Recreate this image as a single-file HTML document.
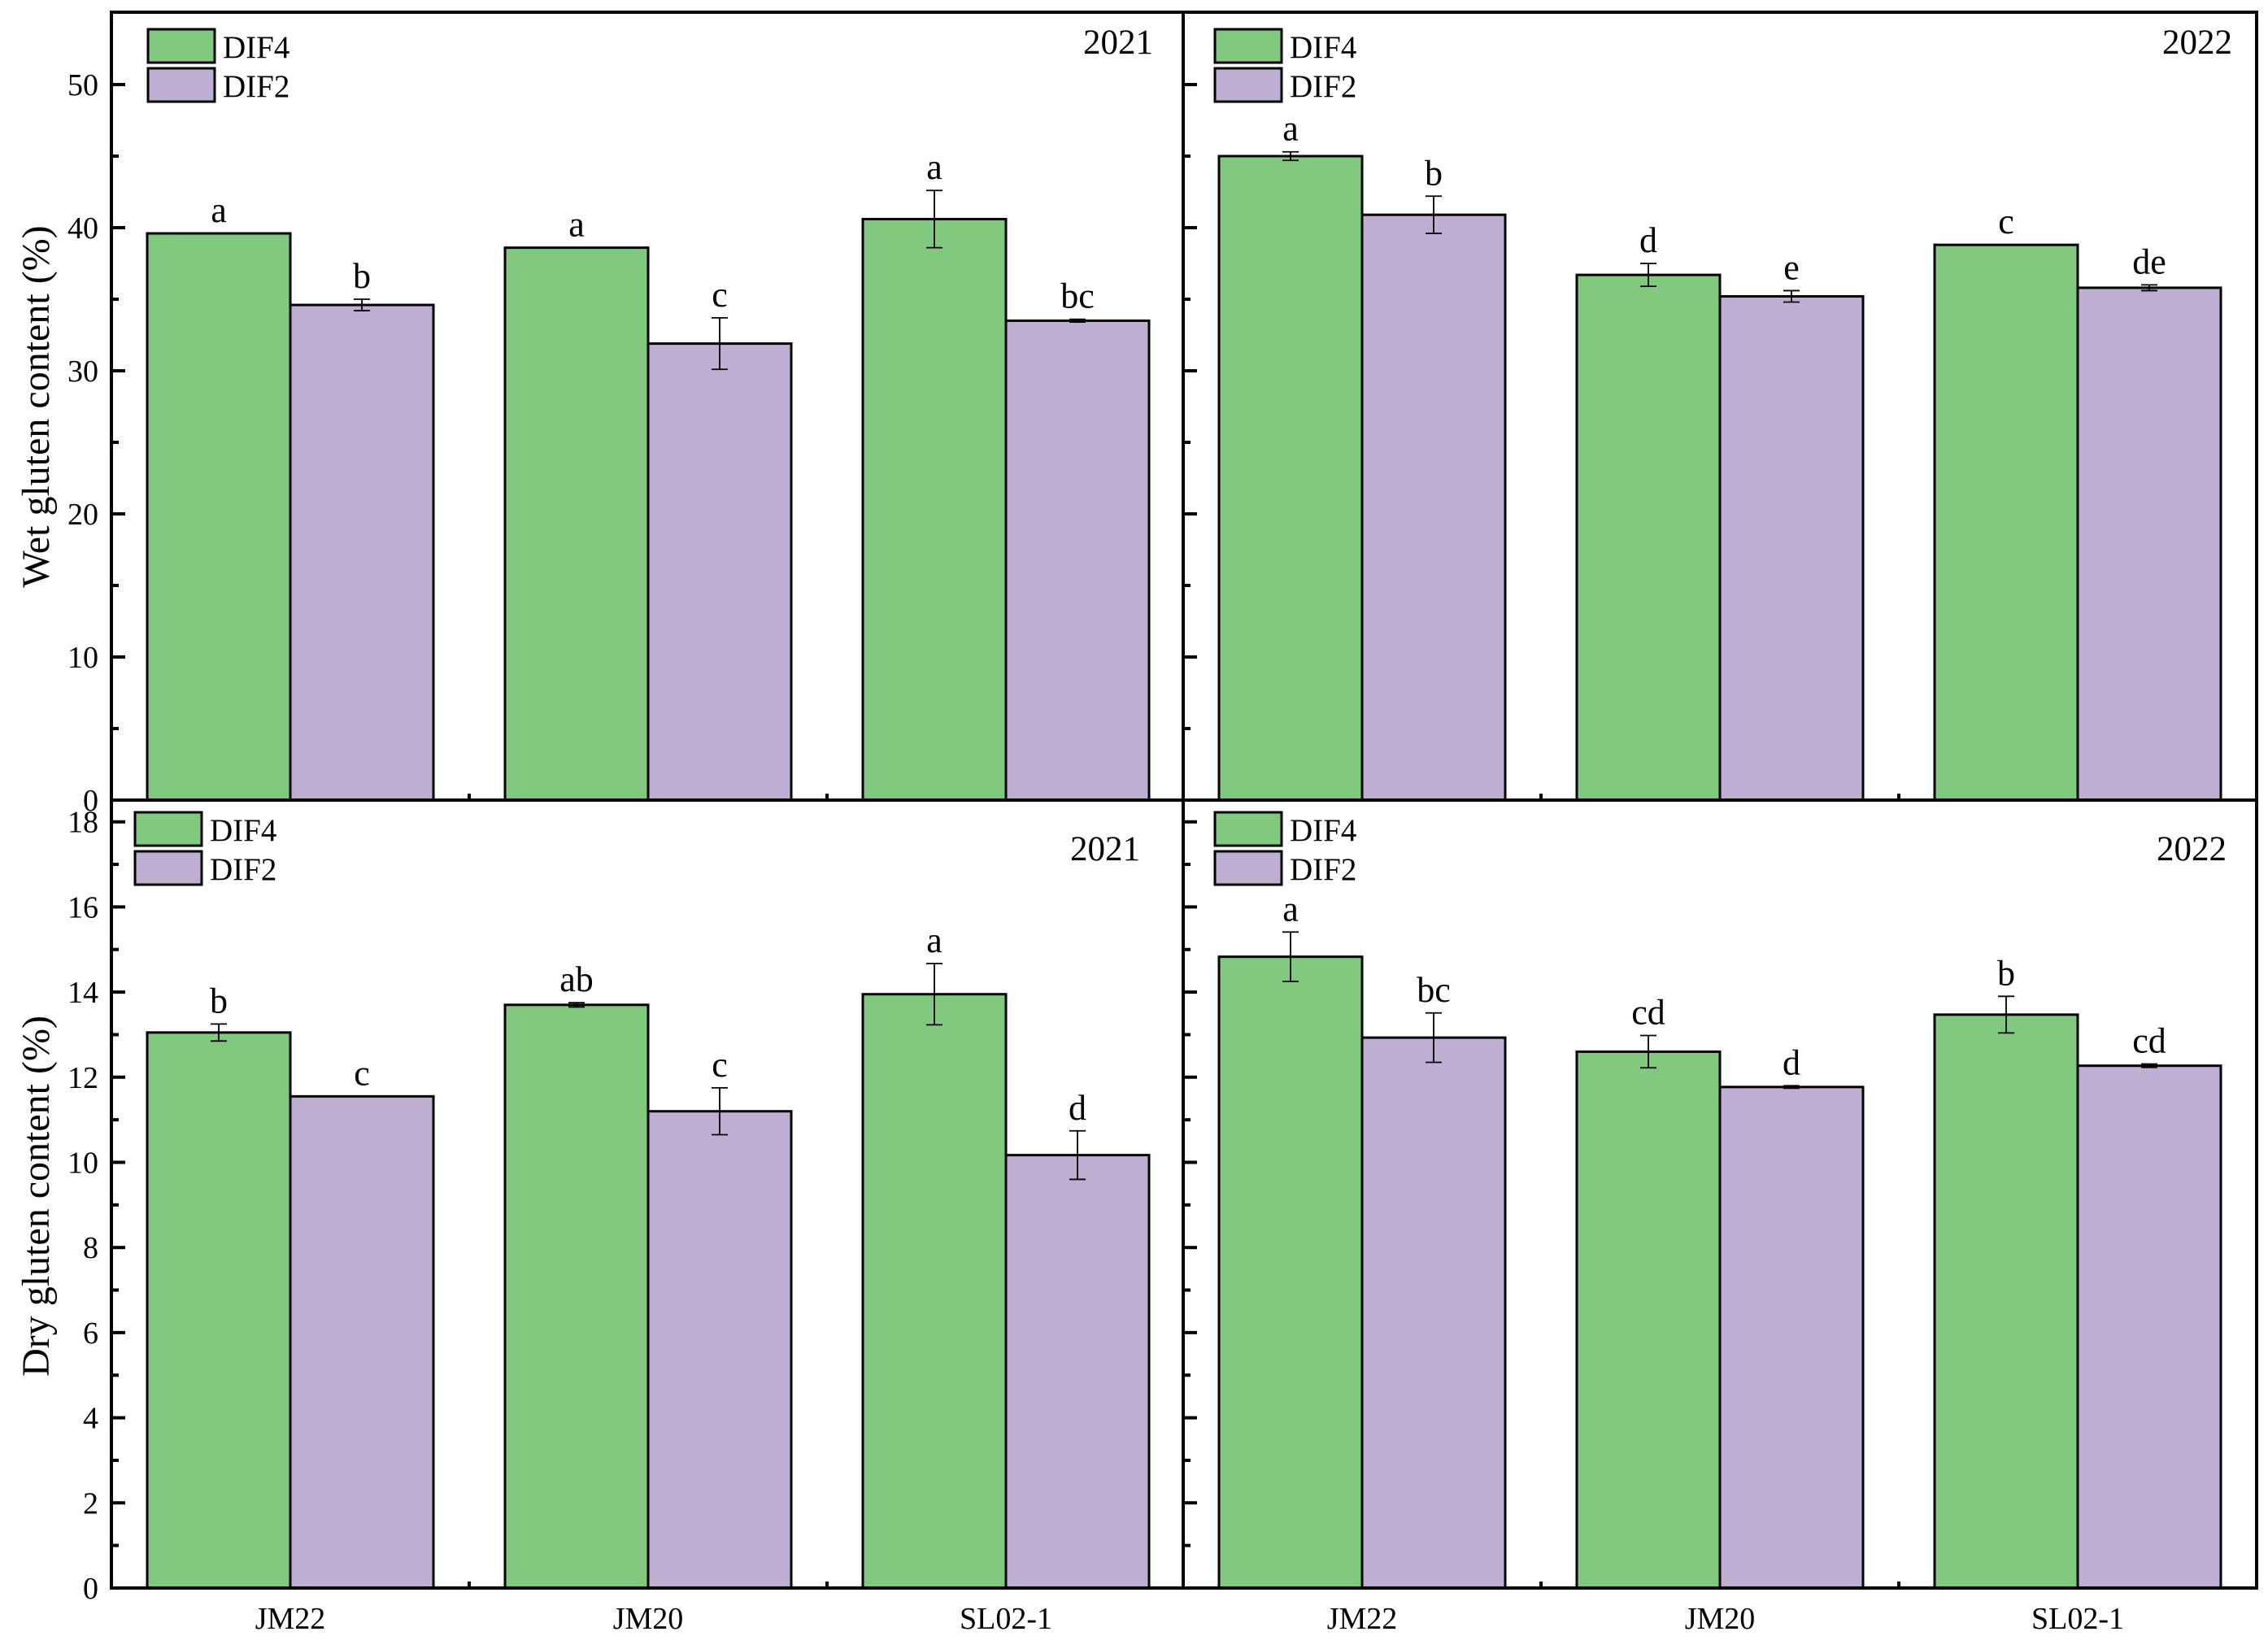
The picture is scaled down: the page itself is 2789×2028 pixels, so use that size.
<!DOCTYPE html>
<html><head><meta charset="utf-8"><style>
html,body{margin:0;padding:0;background:#fff}
svg{display:block;font-family:"Liberation Serif",serif}
</style></head><body>
<svg id="chart" width="2789" height="2028" viewBox="0 0 2789 2028" xmlns="http://www.w3.org/2000/svg"></svg>
<script>
const categories = ["JM22","JM20","SL02-1"];
const wet2021DIF4 = [39.6,38.6,40.6];
const wet2021DIF4Err = [0,0,2.0];
const wet2021DIF2 = [34.6,31.9,33.5];
const wet2021DIF2Err = [0.4,1.8,0.1];
const wet2021Letters4 = ["a","a","a"];
const wet2021Letters2 = ["b","c","bc"];
const wet2022DIF4 = [45.0,36.7,38.8];
const wet2022DIF4Err = [0.3,0.8,0];
const wet2022DIF2 = [40.9,35.2,35.8];
const wet2022DIF2Err = [1.3,0.4,0.2];
const wet2022Letters4 = ["a","d","c"];
const wet2022Letters2 = ["b","e","de"];
const dry2021DIF4 = [13.05,13.7,13.95];
const dry2021DIF4Err = [0.2,0.05,0.72];
const dry2021DIF2 = [11.55,11.2,10.17];
const dry2021DIF2Err = [0,0.55,0.57];
const dry2021Letters4 = ["b","ab","a"];
const dry2021Letters2 = ["c","c","d"];
const dry2022DIF4 = [14.83,12.6,13.47];
const dry2022DIF4Err = [0.58,0.38,0.43];
const dry2022DIF2 = [12.93,11.77,12.27];
const dry2022DIF2Err = [0.58,0.03,0.04];
const dry2022Letters4 = ["a","cd","b"];
const dry2022Letters2 = ["bc","d","cd"];
const wetTicks = [0,10,20,30,40,50];
const dryTicks = [0,2,4,6,8,10,12,14,16,18];

const NS="http://www.w3.org/2000/svg";
const svg=document.getElementById('chart');
function mk(tag,attrs,parent){const e=document.createElementNS(NS,tag);for(const k in attrs)e.setAttribute(k,attrs[k]);(parent||svg).appendChild(e);return e;}
const GREEN="#81c97f", PURPLE="#bdaed2";
const L=137,M=1455,R=2775,T=15,MID=984,B=1953;

function panel(name,x0,x1,y0,zeroY,unitPx,ticks,minorStep,maxV,d4,e4,d2,e2,l4,l2,year,showLabels,legX,legY,yearX,yearY,showX){
  const g=mk('g',{});
  
  
  const y=v=>zeroY-v*unitPx;
  const cx=i=>x0+220+i*440;
  const bw=176;
  for(let v=0;v<=maxV+1e-9;v+=minorStep){
    const major=ticks.some(t=>Math.abs(t-v)<1e-9);
    const t=mk('line',{x1:x0,x2:x0+(major?17:9),y1:y(v),y2:y(v),stroke:'#000','stroke-width':4},g);
    
    
  }
  if(showLabels){ticks.forEach(v=>{
    const t=mk('text',{x:x0-16,y:y(v)+13,'font-size':38,'text-anchor':'end'},g);t.textContent=v;
    
    
  });}
  for(let i=0;i<categories.length;i++){
    const c=cx(i);
    [[d4,e4,l4,GREEN,c-bw,'dif4'],[d2,e2,l2,PURPLE,c,'dif2']].forEach(([d,e,l,col,bx,s])=>{
      const r=mk('rect',{x:bx,y:y(d[i]),width:bw,height:y(0)-y(d[i]),fill:col,stroke:'#000','stroke-width':3},g);
      
      
      const mx=bx+bw/2;
      if(e[i]>0){
        const eb=mk('path',{d:`M${mx},${y(d[i]+e[i])}V${y(d[i]-e[i])}M${mx-10},${y(d[i]+e[i])}H${mx+10}M${mx-10},${y(d[i]-e[i])}H${mx+10}`,stroke:'#000','stroke-width':1.8,fill:'none'},g);
        
        
      } else {
        const eb=mk('path',{d:`M${mx-10},${y(d[i])}H${mx+10}`,stroke:'#000','stroke-width':1.8},g);
        
        
      }
      const lt=mk('text',{x:mx,y:y(d[i]+e[i])-14,'font-size':44,'text-anchor':'middle'},g);lt.textContent=l[i];
      
      
    });
    if(showX){
      const xl=mk('text',{x:c,y:B+50,'font-size':38,'text-anchor':'middle'},g);xl.textContent=categories[i];
      
      
    }
    if(i<categories.length-1){
      const xt=mk('line',{x1:c+220,x2:c+220,y1:zeroY,y2:zeroY-8,stroke:'#000','stroke-width':4},g);
      
      
    }
  }
  [[GREEN,'DIF4',0],[PURPLE,'DIF2',48]].forEach(([col,lab,dy])=>{
    const lr=mk('rect',{x:legX,y:legY+dy,width:82,height:41,fill:col,stroke:'#000','stroke-width':3},g);
    
    
    const lt=mk('text',{x:legX+92,y:legY+dy+35,'font-size':39},g);lt.textContent=lab;
    
    
  });
  const yt=mk('text',{x:yearX,y:yearY,'font-size':43,'text-anchor':'end'},g);yt.textContent=year;
  
  
}
panel('panel-wet-2021',L,M,T,MID,17.6,wetTicks,5,50,wet2021DIF4,wet2021DIF4Err,wet2021DIF2,wet2021DIF2Err,wet2021Letters4,wet2021Letters2,'2021',true,182,36,1418,66,false);
panel('panel-wet-2022',M,R,T,MID,17.6,wetTicks,5,50,wet2022DIF4,wet2022DIF4Err,wet2022DIF2,wet2022DIF2Err,wet2022Letters4,wet2022Letters2,'2022',false,1494,36,2745,66,false);
panel('panel-dry-2021',L,M,MID,B,52.35,dryTicks,1,18,dry2021DIF4,dry2021DIF4Err,dry2021DIF2,dry2021DIF2Err,dry2021Letters4,dry2021Letters2,'2021',true,166,999,1402,1058,true);
panel('panel-dry-2022',M,R,MID,B,52.35,dryTicks,1,18,dry2022DIF4,dry2022DIF4Err,dry2022DIF2,dry2022DIF2Err,dry2022Letters4,dry2022Letters2,'2022',false,1494,999,2738,1058,true);
const fr=mk('path',{d:`M${L},${T}H${R}V${B}H${L}Z M${L},${MID}H${R} M${M},${T}V${B}`,fill:'none',stroke:'#000','stroke-width':4});


[['Wet gluten content (%)',500,'wet-y-axis-title'],['Dry gluten content (%)',1471,'dry-y-axis-title']].forEach(([t,cy,n])=>{
  const e=mk('text',{x:0,y:0,'font-size':48,'text-anchor':'middle',transform:`translate(60,${cy}) rotate(-90)`});e.textContent=t;
  
  
});
</script>
</body></html>
